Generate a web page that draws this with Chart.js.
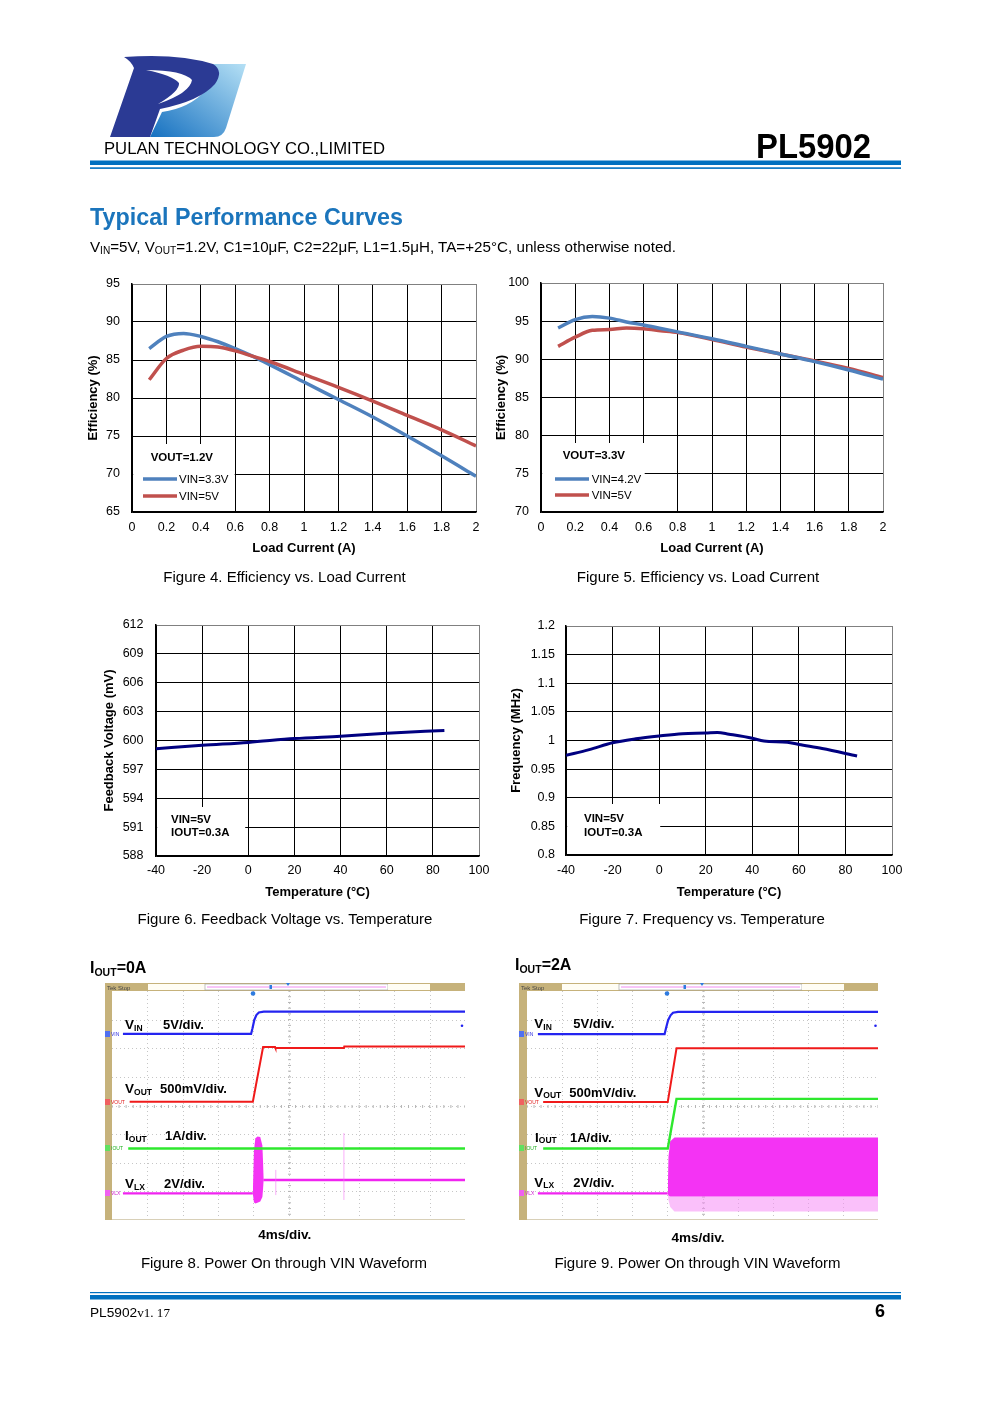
<!DOCTYPE html>
<html>
<head>
<meta charset="utf-8">
<script src="https://cdn.jsdelivr.net/npm/chart.js@4.4.1/dist/chart.umd.min.js"></script>
<style>
  body { margin: 0; width: 993px; height: 1403px; position: relative; background: #fff; overflow: hidden; }
  canvas { position: absolute; }
  #page { position: absolute; left: 0; top: 0; z-index: 2; pointer-events: none; }
</style>
</head>
<body>

<canvas id="fig4" width="404" height="292" style="left:86px;top:264px"></canvas>
<canvas id="fig5" width="403" height="293" style="left:494px;top:263px"></canvas>
<canvas id="fig6" width="395" height="296" style="left:102px;top:604px"></canvas>
<canvas id="fig7" width="402" height="293" style="left:509px;top:607px"></canvas>
<canvas id="fig8" width="353" height="229" style="left:112px;top:991px"></canvas>
<canvas id="fig9" width="351" height="229" style="left:527px;top:991px"></canvas>

<svg id="page" width="993" height="1403" font-family="Liberation Sans, Arial, sans-serif">
  <defs>
    <linearGradient id="lg" x1="0" y1="1" x2="1" y2="0">
      <stop offset="0" stop-color="#1570C0"/>
      <stop offset="1" stop-color="#B5E0F5"/>
    </linearGradient>
  </defs>

  <!-- header -->
  <path d="M150,137 L214,137 Q223,137 226,128 L246,64 L206,64 Q218,76 206,90 Q190,108 162,112 Z" fill="url(#lg)"/>
  <path d="M110,137 L134,68 Q131,61 124,57 Q178,53 213,64 Q224,71 215,84 Q200,101 160,109 L150,137 Z" fill="#2B3A94"/>
  <path d="M146,70 Q183,70 192,80 Q190,93 158,104 Q180,91 179,83 Q172,75 146,70 Z" fill="#fff"/>
  <text x="104" y="154" font-size="16.5" textLength="281" lengthAdjust="spacingAndGlyphs">PULAN TECHNOLOGY CO.,LIMITED</text>
  <text x="756" y="158" font-size="35" font-weight="bold" textLength="115" lengthAdjust="spacingAndGlyphs">PL5902</text>
  <rect x="90" y="160.5" width="811" height="4.5" fill="#0070C0"/>
  <rect x="90" y="167.3" width="811" height="1.6" fill="#0070C0"/>

  <text x="90" y="225" font-size="23" font-weight="bold" fill="#1B75BC" textLength="313" lengthAdjust="spacingAndGlyphs">Typical Performance Curves</text>
  <text x="90" y="252" font-size="15" textLength="586" lengthAdjust="spacingAndGlyphs">V<tspan font-size="10" dy="1.5">IN</tspan><tspan dy="-1.5">=5V, V</tspan><tspan font-size="10" dy="1.5">OUT</tspan><tspan dy="-1.5">=1.2V, C1=10μF, C2=22μF, L1=1.5μH, TA=+25°C, unless otherwise noted.</tspan></text>

  <!-- chart annotation boxes -->
  <rect x="133.2" y="444" width="101.5" height="67" fill="#fff"/>
  <text x="150.7" y="461" font-size="11.5" font-weight="bold">VOUT=1.2V</text>
  <line x1="143" y1="479" x2="177" y2="479" stroke="#4F81BD" stroke-width="3.5"/>
  <text x="179" y="483" font-size="11.5">VIN=3.3V</text>
  <line x1="143" y1="496" x2="177" y2="496" stroke="#C0504D" stroke-width="3.5"/>
  <text x="179" y="500" font-size="11.5">VIN=5V</text>

  <rect x="542.2" y="443" width="102.5" height="68" fill="#fff"/>
  <text x="562.7" y="459" font-size="11.5" font-weight="bold">VOUT=3.3V</text>
  <line x1="555" y1="479" x2="589" y2="479" stroke="#4F81BD" stroke-width="3.5"/>
  <text x="591.7" y="483" font-size="11.5">VIN=4.2V</text>
  <line x1="555" y1="495" x2="589" y2="495" stroke="#C0504D" stroke-width="3.5"/>
  <text x="591.7" y="499" font-size="11.5">VIN=5V</text>

  <rect x="157.2" y="807" width="88" height="48" fill="#fff"/>
  <text x="171" y="823" font-size="11.5" font-weight="bold">VIN=5V</text>
  <text x="171" y="835.5" font-size="11.5" font-weight="bold">IOUT=0.3A</text>

  <rect x="567.2" y="804" width="93" height="50" fill="#fff"/>
  <text x="584" y="822" font-size="11.5" font-weight="bold">VIN=5V</text>
  <text x="584" y="835.5" font-size="11.5" font-weight="bold">IOUT=0.3A</text>

  <!-- captions -->
  <text x="284.5" y="581.5" font-size="15" text-anchor="middle">Figure 4. Efficiency vs. Load Current</text>
  <text x="698" y="581.5" font-size="15" text-anchor="middle">Figure 5. Efficiency vs. Load Current</text>
  <text x="285" y="923.5" font-size="15" text-anchor="middle">Figure 6. Feedback Voltage vs. Temperature</text>
  <text x="702" y="923.5" font-size="15" text-anchor="middle">Figure 7. Frequency vs. Temperature</text>

  <!-- scope 8 frame -->
  <text x="90" y="973" font-size="16" font-weight="bold">I<tspan font-size="10.5" dy="2.5">OUT</tspan><tspan dy="-2.5">=0A</tspan></text>
  <rect x="105" y="983" width="7" height="237" fill="#C6B27B"/>
  <rect x="105" y="983" width="360" height="8" fill="#C6B27B"/>
  <rect x="148" y="984" width="57" height="6" fill="#FFFDF4"/>
  <rect x="205" y="984" width="183" height="6" fill="#fff" stroke="#9a9a9a" stroke-width="0.6"/>
  <line x1="207" y1="987" x2="386" y2="987" stroke="#F08CF0" stroke-width="1"/>
  <rect x="388" y="984" width="42" height="6" fill="#FFFDF4"/>
  <text x="107" y="989.5" font-size="6" fill="#444">Tek Stop</text>
  <circle cx="253" cy="993.5" r="2.3" fill="#2E7BE0"/>
  <path d="M286,983 L290,983 L288,986 Z" fill="#2E7BE0"/>
  <rect x="269.5" y="985" width="2.5" height="4" fill="#2E7BE0"/>
  <circle cx="462" cy="1025.7" r="1.3" fill="#2020F0"/>
  <line x1="112" y1="1219.5" x2="465" y2="1219.5" stroke="#d8d0b8"/>
  <rect x="105" y="1031" width="5" height="6" fill="#5070F0"/><text x="111" y="1036" font-size="5" fill="#3030E0">VIN</text>
  <rect x="105" y="1099" width="5" height="6" fill="#F06060"/><text x="111" y="1104" font-size="5" fill="#E02020">VOUT</text>
  <rect x="105" y="1145" width="5" height="6" fill="#60E060"/><text x="111" y="1150" font-size="5" fill="#20B020">IOUT</text>
  <rect x="105" y="1190" width="5" height="6" fill="#F060F0"/><text x="111" y="1195" font-size="5" fill="#D020D0">VLX</text>

  <text x="125" y="1029" font-size="13.5" font-weight="bold">V<tspan font-size="8.5" dy="1.5">IN</tspan></text>
  <text x="163" y="1029" font-size="13" font-weight="bold">5V/div.</text>
  <text x="125" y="1093" font-size="13.5" font-weight="bold">V<tspan font-size="8.5" dy="1.5">OUT</tspan></text>
  <text x="160" y="1093" font-size="13" font-weight="bold">500mV/div.</text>
  <text x="125" y="1140" font-size="13.5" font-weight="bold">I<tspan font-size="8.5" dy="1.5">OUT</tspan></text>
  <text x="165" y="1140" font-size="13" font-weight="bold">1A/div.</text>
  <text x="125" y="1188" font-size="13.5" font-weight="bold">V<tspan font-size="8.5" dy="1.5">LX</tspan></text>
  <text x="164" y="1188" font-size="13" font-weight="bold">2V/div.</text>
  <text x="284.7" y="1239" font-size="13.5" font-weight="bold" text-anchor="middle">4ms/div.</text>
  <text x="284" y="1267.5" font-size="15" text-anchor="middle">Figure 8. Power On through VIN Waveform</text>

  <!-- scope 9 frame -->
  <text x="515" y="970" font-size="16" font-weight="bold">I<tspan font-size="10.5" dy="2.5">OUT</tspan><tspan dy="-2.5">=2A</tspan></text>
  <rect x="519" y="983" width="8" height="237" fill="#C6B27B"/>
  <rect x="519" y="983" width="359" height="8" fill="#C6B27B"/>
  <rect x="562" y="984" width="57" height="6" fill="#FFFDF4"/>
  <rect x="619" y="984" width="183" height="6" fill="#fff" stroke="#9a9a9a" stroke-width="0.6"/>
  <line x1="621" y1="987" x2="800" y2="987" stroke="#F08CF0" stroke-width="1"/>
  <rect x="802" y="984" width="42" height="6" fill="#FFFDF4"/>
  <text x="521" y="989.5" font-size="6" fill="#444">Tek Stop</text>
  <circle cx="667" cy="993.5" r="2.3" fill="#2E7BE0"/>
  <path d="M700,983 L704,983 L702,986 Z" fill="#2E7BE0"/>
  <rect x="683.5" y="985" width="2.5" height="4" fill="#2E7BE0"/>
  <circle cx="875.5" cy="1025.7" r="1.3" fill="#2020F0"/>
  <line x1="527" y1="1219.5" x2="878" y2="1219.5" stroke="#d8d0b8"/>
  <rect x="519" y="1031" width="5" height="6" fill="#5070F0"/><text x="525" y="1036" font-size="5" fill="#3030E0">VIN</text>
  <rect x="519" y="1099" width="5" height="6" fill="#F06060"/><text x="525" y="1104" font-size="5" fill="#E02020">VOUT</text>
  <rect x="519" y="1145" width="5" height="6" fill="#60E060"/><text x="525" y="1150" font-size="5" fill="#20B020">IOUT</text>
  <rect x="519" y="1190" width="5" height="6" fill="#F060F0"/><text x="525" y="1195" font-size="5" fill="#D020D0">VLX</text>

  <text x="534.3" y="1028.3" font-size="13.5" font-weight="bold">V<tspan font-size="8.5" dy="1.5">IN</tspan></text>
  <text x="573.3" y="1028.3" font-size="13" font-weight="bold">5V/div.</text>
  <text x="534.3" y="1096.7" font-size="13.5" font-weight="bold">V<tspan font-size="8.5" dy="1.5">OUT</tspan></text>
  <text x="569.3" y="1096.7" font-size="13" font-weight="bold">500mV/div.</text>
  <text x="535" y="1141.7" font-size="13.5" font-weight="bold">I<tspan font-size="8.5" dy="1.5">OUT</tspan></text>
  <text x="570" y="1141.7" font-size="13" font-weight="bold">1A/div.</text>
  <text x="534.3" y="1186.7" font-size="13.5" font-weight="bold">V<tspan font-size="8.5" dy="1.5">LX</tspan></text>
  <text x="573.3" y="1186.7" font-size="13" font-weight="bold">2V/div.</text>
  <text x="698" y="1242" font-size="13.5" font-weight="bold" text-anchor="middle">4ms/div.</text>
  <text x="697.5" y="1267.5" font-size="15" text-anchor="middle">Figure 9. Power On through VIN Waveform</text>

  <!-- footer -->
  <rect x="90" y="1292" width="811" height="1.2" fill="#0070C0"/>
  <rect x="90" y="1295" width="811" height="4.5" fill="#0070C0"/>
  <text x="90" y="1316.5" font-size="12.5" textLength="80" lengthAdjust="spacingAndGlyphs">PL5902<tspan font-family="Liberation Serif, serif" font-size="12">v1. 17</tspan></text>
  <text x="885" y="1317" font-size="18" font-weight="bold" text-anchor="end">6</text>
</svg>

<script>
// Figure 4 / 5: efficiency vs load current
const loadCurrent = [0.1, 0.2, 0.3, 0.4, 0.5, 0.6, 0.7, 0.8, 1.0, 1.2, 1.4, 1.6, 1.8, 2.0];
const eff12Vin33 = [86.5, 88.1, 88.5, 88.1, 87.4, 86.5, 85.5, 84.4, 82.1, 79.8, 77.5, 75.0, 72.4, 69.7];
const eff12Vin5  = [82.4, 85.2, 86.3, 86.8, 86.7, 86.2, 85.5, 84.8, 83.1, 81.4, 79.6, 77.7, 75.8, 73.7];
const eff33Vin42 = [94.1, 95.2, 95.6, 95.4, 94.9, 94.5, 94.05, 93.6, 92.7, 91.7, 90.7, 89.7, 88.6, 87.4];
const eff33Vin5  = [91.7, 92.9, 93.8, 93.9, 94.1, 94.0, 93.75, 93.5, 92.6, 91.6, 90.7, 89.8, 88.8, 87.6];

// Figure 6 / 7: vs temperature
const tempFb = [-40, -20, 0, 20, 40, 60, 85];
const feedbackMv = [599.15, 599.5, 599.8, 600.2, 600.45, 600.75, 601.05];
const tempFreq = [-40, -30, -20, -10, 0, 10, 20, 25, 30, 40, 45, 55, 60, 70, 85];
const freqMhz = [0.974, 0.984, 0.996, 1.003, 1.008, 1.012, 1.013, 1.014, 1.011, 1.004, 0.999, 0.997, 0.993, 0.986, 0.973];

// Figure 8 scope traces (divisions: x 0..10, y 0..8)
const s8VinX = [0.31, 3.94, 3.98, 4.03, 4.09, 4.16, 4.3, 10];
const s8VinY = [6.5, 6.5, 6.7, 6.98, 7.16, 7.25, 7.28, 7.28];
const s8VoutX = [0.5, 3.99, 4.28, 4.62, 4.63, 6.57, 6.58, 10];
const s8VoutY = [4.13, 4.13, 6.04, 6.04, 6.01, 6.01, 6.06, 6.06];
const s8IoutX = [0.46, 10];
const s8IoutY = [2.5, 2.5];
const s8VlxLowX = [0.31, 3.99];
const s8VlxLowY = [0.93, 0.93];
const s8VlxHighX = [4.29, 10];
const s8VlxHighY = [1.4, 1.4];
const s8BurstX = [3.99, 4.02, 4.06, 4.12, 4.2, 4.26, 4.3];
const s8BurstTop = [0.93, 2.4, 2.85, 2.92, 2.9, 2.6, 1.4];
const s8BurstBot = [0.93, 0.62, 0.58, 0.6, 0.65, 0.8, 1.4];
const s8Spike1X = [4.64, 4.64];
const s8Spike1Y = [0.87, 1.75];
const s8Spike2X = [6.57, 6.57];
const s8Spike2Y = [0.7, 3.04];

// Figure 9 scope traces
const s9VinX = [0.31, 3.92, 3.96, 4.02, 4.09, 4.16, 4.3, 10];
const s9VinY = [6.49, 6.49, 6.7, 6.98, 7.15, 7.24, 7.27, 7.27];
const s9VoutX = [0.46, 4.01, 4.26, 10];
const s9VoutY = [4.12, 4.12, 6.0, 6.0];
const s9IoutX = [0.46, 4.01, 4.26, 10];
const s9IoutY = [2.5, 2.5, 4.23, 4.23];
const s9VlxX = [0.31, 4.01];
const s9VlxY = [0.93, 0.93];
const s9BandX = [4.01, 4.03, 4.08, 4.2, 10];
const s9BandTop = [0.93, 2.2, 2.75, 2.88, 2.88];
const s9BandBot = [0.93, 0.86, 0.82, 0.82, 0.82];
const s9Fringe = [0.93, 0.7, 0.45, 0.3, 0.3];

Chart.defaults.font.family = '"Liberation Sans", Arial, sans-serif';
Chart.defaults.color = '#000';

const pts = (xs, ys) => xs.map((x, i) => ({ x: x, y: ys[i] }));

function curve(xs, ys, color, width) {
  return { data: pts(xs, ys), borderColor: color, borderWidth: width, fill: false };
}

function perfChart(id, c) {
  const edgeGrid = (max) => (ctx) => (ctx.tick && Math.abs(ctx.tick.value - max) < 1e-9 ? '#808080' : '#000');
  return new Chart(document.getElementById(id), {
    type: 'line',
    data: { datasets: c.datasets },
    options: {
      responsive: false, animation: false, events: [],
      layout: { padding: { top: c.padTop, right: c.padRight, left: 0, bottom: 0 } },
      plugins: { legend: { display: false }, tooltip: { enabled: false } },
      elements: { point: { radius: 0 }, line: { cubicInterpolationMode: 'monotone' } },
      scales: {
        x: {
          type: 'linear', min: c.x.min, max: c.x.max,
          ticks: { stepSize: c.x.step, padding: c.x.pad, font: { size: 12.5 }, maxRotation: 0, autoSkip: false, callback: c.x.fmt },
          grid: { color: edgeGrid(c.x.max), lineWidth: 1, drawTicks: false },
          border: { color: '#000', width: 1.5 },
          title: { display: true, text: c.x.title, font: { size: 13, weight: 'bold' }, padding: 0 },
          afterFit: (s) => { s.height = c.xH; }
        },
        y: {
          type: 'linear', min: c.y.min, max: c.y.max,
          ticks: { stepSize: c.y.step, padding: c.y.pad, font: { size: 12.5 }, autoSkip: false, callback: c.y.fmt },
          grid: { color: edgeGrid(c.y.max), lineWidth: 1, drawTicks: false },
          border: { color: '#000', width: 1.5 },
          title: { display: true, text: c.y.title, font: { size: 13, weight: 'bold' }, padding: 0 },
          afterFit: (s) => { s.width = c.yW; }
        }
      }
    }
  });
}

const dec1 = (v) => String(Math.round(v * 10) / 10);
const dec2 = (v) => String(Math.round(v * 100) / 100);
const int0 = (v) => String(Math.round(v));

perfChart('fig4', {
  padTop: 20, padRight: 14, xH: 44, yW: 46,
  x: { min: 0, max: 2, step: 0.2, pad: 8.5, fmt: dec1, title: 'Load Current (A)' },
  y: { min: 65, max: 95, step: 5, pad: 12, fmt: int0, title: 'Efficiency (%)' },
  datasets: [curve(loadCurrent, eff12Vin5, '#C0504D', 3.5), curve(loadCurrent, eff12Vin33, '#4F81BD', 3.5)]
});

perfChart('fig5', {
  padTop: 20, padRight: 14, xH: 44, yW: 47,
  x: { min: 0, max: 2, step: 0.2, pad: 8.5, fmt: dec1, title: 'Load Current (A)' },
  y: { min: 70, max: 100, step: 5, pad: 12, fmt: int0, title: 'Efficiency (%)' },
  datasets: [curve(loadCurrent, eff33Vin42, '#4F81BD', 3.5), curve(loadCurrent, eff33Vin5, '#C0504D', 3.5)]
});

perfChart('fig6', {
  padTop: 21, padRight: 18, xH: 44, yW: 54,
  x: { min: -40, max: 100, step: 20, pad: 7.5, fmt: int0, title: 'Temperature (°C)' },
  y: { min: 588, max: 612, step: 3, pad: 12.5, fmt: int0, title: 'Feedback Voltage (mV)' },
  datasets: [curve(tempFb, feedbackMv, '#000080', 3)]
});

perfChart('fig7', {
  padTop: 19, padRight: 19, xH: 45, yW: 57,
  x: { min: -40, max: 100, step: 20, pad: 8.5, fmt: int0, title: 'Temperature (°C)' },
  y: { min: 0.8, max: 1.2, step: 0.05, pad: 11, fmt: dec2, title: 'Frequency (MHz)' },
  datasets: [curve(tempFreq, freqMhz, '#000080', 3)]
});

// oscilloscope graticule, drawn from the chart's own scales
const graticule = {
  id: 'graticule',
  beforeDatasetsDraw(chart) {
    const { ctx, scales: { x, y } } = chart;
    ctx.save();
    ctx.lineWidth = 1;
    ctx.strokeStyle = '#c6c6c6';
    ctx.setLineDash([1, 3]);
    for (let i = 1; i < 10; i++) {
      const px = Math.round(x.getPixelForValue(i)) + 0.5;
      ctx.beginPath(); ctx.moveTo(px, y.getPixelForValue(8)); ctx.lineTo(px, y.getPixelForValue(0)); ctx.stroke();
    }
    for (let j = 1; j < 8; j++) {
      const py = Math.round(y.getPixelForValue(j)) + 0.5;
      ctx.beginPath(); ctx.moveTo(x.getPixelForValue(0), py); ctx.lineTo(x.getPixelForValue(10), py); ctx.stroke();
    }
    ctx.setLineDash([]);
    ctx.strokeStyle = '#b4b4b4';
    const cx = Math.round(x.getPixelForValue(5)) + 0.5;
    const cy = Math.round(y.getPixelForValue(4)) + 0.5;
    for (let k = 0; k <= 50; k++) {
      const px = x.getPixelForValue(k * 0.2);
      ctx.beginPath(); ctx.moveTo(px, cy - 1.5); ctx.lineTo(px, cy + 1.5); ctx.stroke();
    }
    for (let k = 0; k <= 40; k++) {
      const py = y.getPixelForValue(k * 0.2);
      ctx.beginPath(); ctx.moveTo(cx - 1.5, py); ctx.lineTo(cx + 1.5, py); ctx.stroke();
    }
    ctx.restore();
  }
};

function scope(id, datasets) {
  return new Chart(document.getElementById(id), {
    type: 'line',
    data: { datasets: datasets },
    options: {
      responsive: false, animation: false, events: [],
      layout: { padding: 0 },
      plugins: { legend: { display: false }, tooltip: { enabled: false } },
      elements: { point: { radius: 0 }, line: { tension: 0 } },
      scales: {
        x: { type: 'linear', min: 0, max: 10, display: false },
        y: { type: 'linear', min: 0, max: 8, display: false }
      }
    },
    plugins: [graticule]
  });
}

const band = (xs, ys, fill, bg) => ({ data: pts(xs, ys), borderWidth: 0, fill: fill, backgroundColor: bg });

scope('fig8', [
  curve(s8Spike1X, s8Spike1Y, 'rgba(245,120,245,0.6)', 1),
  curve(s8Spike2X, s8Spike2Y, 'rgba(245,120,245,0.6)', 1),
  curve(s8VinX, s8VinY, '#2424F0', 2.2),
  curve(s8VoutX, s8VoutY, '#F01A1A', 2),
  curve(s8IoutX, s8IoutY, '#2EE82E', 2.4),
  curve(s8VlxLowX, s8VlxLowY, '#F024F0', 2.4),
  curve(s8VlxHighX, s8VlxHighY, '#F024F0', 2.4),
  band(s8BurstX, s8BurstTop, false, 'transparent'),
  band(s8BurstX, s8BurstBot, '-1', '#F433F4')
]);

scope('fig9', [
  curve(s9VinX, s9VinY, '#2424F0', 2.2),
  curve(s9VoutX, s9VoutY, '#F01A1A', 2),
  curve(s9IoutX, s9IoutY, '#2EE82E', 2.4),
  curve(s9VlxX, s9VlxY, '#F024F0', 2.4),
  band(s9BandX, s9BandTop, false, 'transparent'),
  band(s9BandX, s9BandBot, '-1', '#F433F4'),
  band(s9BandX, s9Fringe, '-1', 'rgba(245,140,245,0.55)')
]);
</script>
</body>
</html>
